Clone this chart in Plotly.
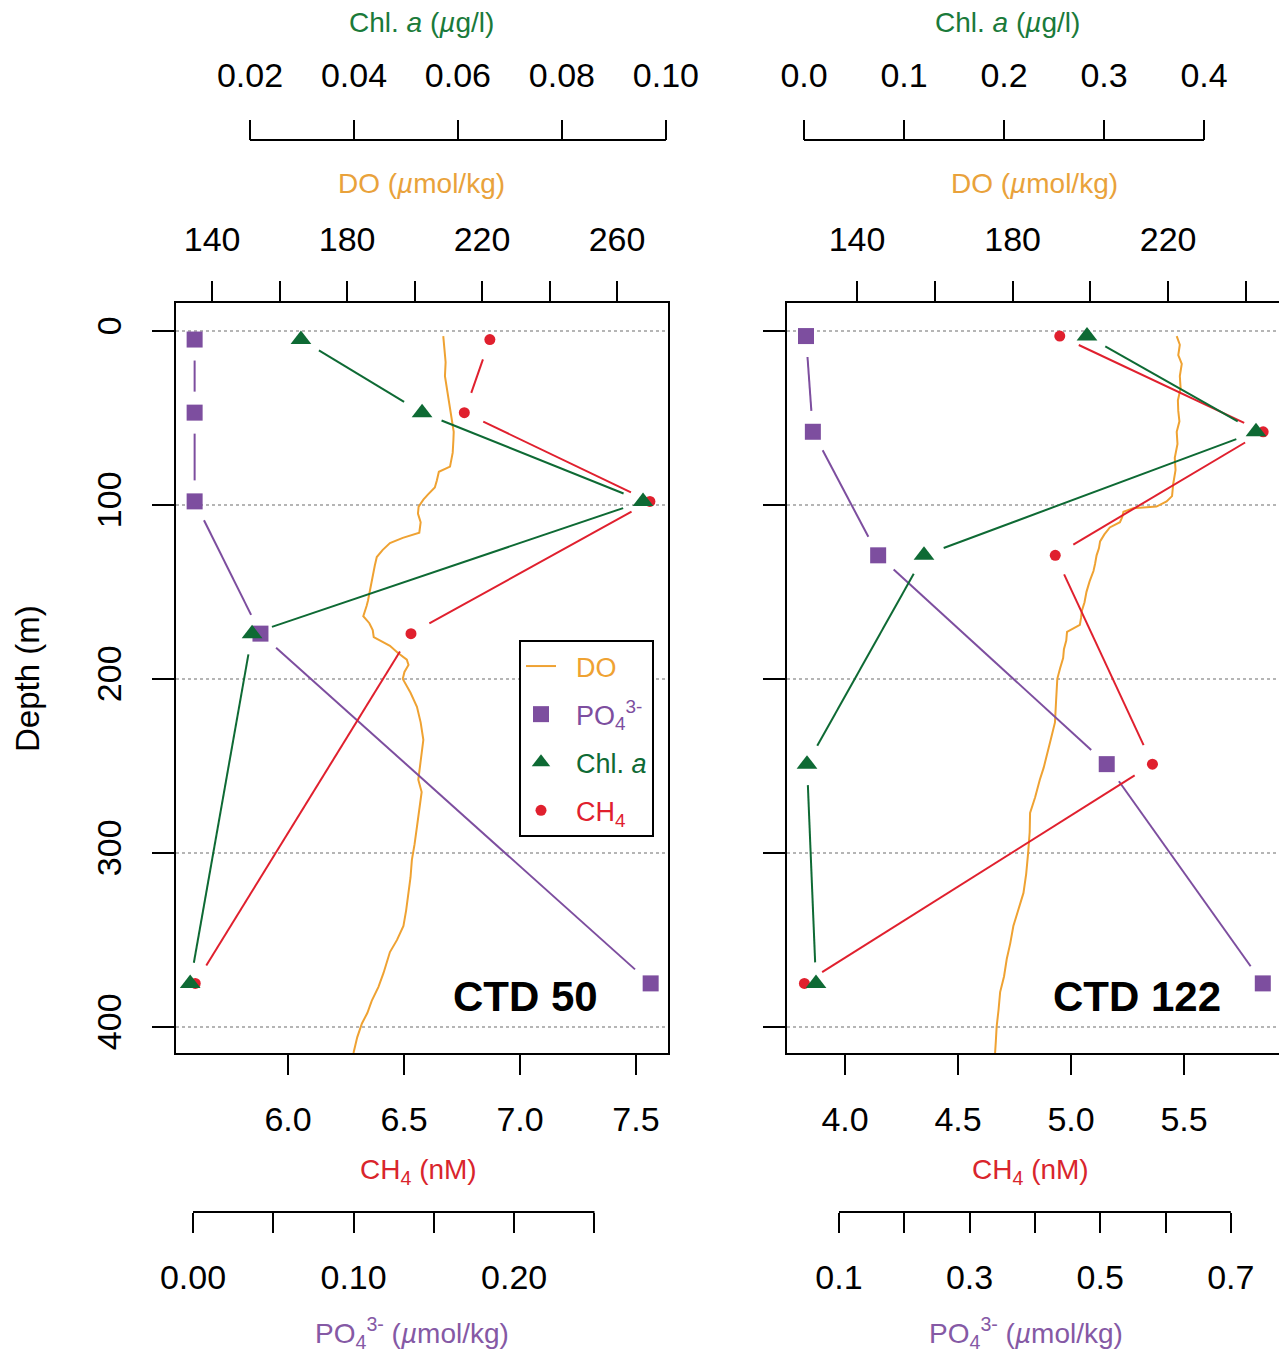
import plotly.graph_objects as go

W, H = 1279, 1357
FONT = "Liberation Sans, Arial, Helvetica, sans-serif"

# ---------------- data ----------------
# CTD 50
depth_50 = [5, 47, 98, 174, 375]
ch4_50 = [6.87, 6.76, 7.56, 6.53, 5.60]
chl_50 = [0.0298, 0.0531, 0.0956, 0.0204, 0.0085]
po4_50 = [0.001, 0.001, 0.001, 0.042, 0.285]
do_depth_50 = [3, 10, 18, 26, 34, 42, 51, 58, 63, 70, 78, 81, 86, 90, 94, 97, 101, 105, 110,
               116, 119, 122, 126, 130, 135, 139, 145, 151, 155, 158, 164, 168, 172, 176, 181,
               185, 189, 192, 196, 200, 208, 216, 225, 235, 245, 258, 265, 275, 285, 295, 304,
               314, 323, 333, 342, 350, 357, 363, 369, 377, 385, 392, 398, 406, 415]
do_50 = [208.5, 208.8, 209.2, 209.0, 209.6, 210.4, 211.0, 211.6, 211.5, 211.3, 210.5, 207.2,
         206.6, 206.0, 204.0, 202.6, 201.2, 201.0, 201.8, 201.4, 196.5, 192.7, 190.5, 188.8,
         188.2, 187.8, 187.4, 186.8, 186.2, 185.8, 184.8, 186.6, 187.6, 187.9, 192.7, 195.0,
         197.7, 198.2, 197.0, 196.5, 198.8, 200.7, 201.8, 202.6, 202.0, 201.1, 202.1, 201.3,
         200.7, 200.0, 199.2, 198.8, 198.2, 197.5, 196.7, 194.8, 192.7, 191.8, 190.8, 189.3,
         187.3, 186.0, 184.4, 183.0, 181.9]

# CTD 122
depth_122 = [3, 58, 129, 249, 375]
ch4_122 = [4.95, 5.85, 4.93, 5.36, 3.82]
chl_122 = [0.283, 0.452, 0.120, 0.003, 0.012]
po4_122 = [0.0495, 0.060, 0.160, 0.510, 0.749]
do_depth_122 = [3, 8, 14, 19, 26, 33, 40, 46, 52, 58, 65, 73, 80, 88, 95, 98, 101, 102, 104,
                107, 110, 113, 117, 121, 125, 129, 134, 138, 144, 150, 156, 161, 165, 169, 173,
                178, 183, 188, 194, 200, 212, 225, 235, 244, 251, 258, 268, 277, 288, 300, 312,
                323, 333, 342, 352, 361, 371, 380, 390, 400, 408, 415]
do_122 = [222.2, 223.0, 222.6, 223.5, 223.0, 223.2, 222.5, 222.6, 222.9, 222.2, 222.4, 221.7,
          221.9, 221.3, 221.0, 219.6, 217.0, 211.0, 208.5, 208.2, 207.6, 205.0, 203.6, 202.5,
          202.2, 201.6, 201.2, 200.8, 199.8, 199.0, 198.5, 197.8, 197.6, 197.3, 194.0, 193.8,
          193.2, 193.0, 192.2, 191.5, 191.2, 190.9, 189.8, 188.8, 188.0, 187.0, 185.8, 184.5,
          184.4, 184.0, 183.5, 182.8, 181.5, 180.2, 179.4, 178.5, 177.8, 176.8, 176.4, 175.9,
          175.7, 175.5]

# ticks (labelled major ticks + unlabelled minor ticks)
depth_ticks = [0, 100, 200, 300, 400]
ch4_ticks_50 = [6.0, 6.5, 7.0, 7.5]
ch4_ticks_122 = [4.0, 4.5, 5.0, 5.5]
do_ticks_50 = [140, 180, 220, 260]
do_minor_50 = [160, 200, 240]
do_ticks_122 = [140, 180, 220]
do_minor_122 = [160, 200, 240]
chl_ticks_50 = [0.02, 0.04, 0.06, 0.08, 0.10]
chl_text_50 = ["0.02", "0.04", "0.06", "0.08", "0.10"]
chl_ticks_122 = [0.0, 0.1, 0.2, 0.3, 0.4]
chl_text_122 = ["0.0", "0.1", "0.2", "0.3", "0.4"]
po4_ticks_50 = [0.0, 0.10, 0.20]
po4_text_50 = ["0.00", "0.10", "0.20"]
po4_minor_50 = [0.05, 0.15, 0.25]
po4_ticks_122 = [0.1, 0.3, 0.5, 0.7]
po4_text_122 = ["0.1", "0.3", "0.5", "0.7"]
po4_minor_122 = [0.2, 0.4, 0.6]
po4_span_50 = [0.0, 0.25]
po4_span_122 = [0.1, 0.7]

# ---------------- style ----------------
C_DO = "#EFA232"
C_PO4 = "#7D4E9F"
C_CHL = "#0E6A34"
C_CH4 = "#E0202E"
T_DO = "#E9A23B"
T_PO4 = "#8559A5"
T_CHL = "#1A7A3A"
T_CH4 = "#D9252C"

# layout geometry (pixels -> paper)
dom_y = [1 - 1053 / H, 1 - 303 / H]
dom_l = [176 / W, 668 / W]
dom_r = [787 / W, 1.0]
y_rng = [415, -16]
PLOT_W = 492
PLOT_H = 750

rng = {
    50: dict(do=[129.3, 275.1], po4=[-0.0106, 0.2958], ch4=[5.517, 7.638], chl=[0.00577, 0.1004]),
    122: dict(do=[122.0, 248.5], po4=[0.0204, 0.7738], ch4=[3.743, 5.920], chl=[-0.017, 0.475]),
}
chl_pos = 1 - 140 / H
po4_pos = 1 - 1212 / H


def gapped(xv, yv, xr, yr, gap=21):
    """Segments between consecutive points, shortened at both ends (R type='b')."""
    gx, gy = [], []
    for i in range(len(xv) - 1):
        x0, y0, x1, y1 = xv[i], yv[i], xv[i + 1], yv[i + 1]
        dxp = (x1 - x0) / (xr[1] - xr[0]) * PLOT_W
        dyp = (y1 - y0) / (yr[1] - yr[0]) * PLOT_H
        L = (dxp ** 2 + dyp ** 2) ** 0.5
        if L <= 2 * gap:
            continue
        t = gap / L
        gx += [x0 + (x1 - x0) * t, x0 + (x1 - x0) * (1 - t), None]
        gy += [y0 + (y1 - y0) * t, y0 + (y1 - y0) * (1 - t), None]
    return gx, gy


fig = go.Figure()

panels = [
    (50, dict(do="x", po4="x2", ch4="x3", chl="x4", y="y"),
     depth_50, ch4_50, chl_50, po4_50, do_depth_50, do_50, True),
    (122, dict(do="x5", po4="x6", ch4="x7", chl="x8", y="y2"),
     depth_122, ch4_122, chl_122, po4_122, do_depth_122, do_122, False),
]

SP = "&nbsp;&nbsp;"
for key, ax, dep, ch4, chl, po4, ddep, dov, leg in panels:
    r = rng[key]
    # DO profile
    fig.add_trace(go.Scatter(x=dov, y=ddep, mode="lines", xaxis=ax["do"], yaxis=ax["y"],
                             line=dict(color=C_DO, width=2),
                             name='%s<span style="color:%s">DO</span>' % (SP, C_DO),
                             showlegend=leg, legendrank=1, legendgroup="do"))
    # PO4
    gx, gy = gapped(po4, dep, r["po4"], y_rng)
    fig.add_trace(go.Scatter(x=gx, y=gy, mode="lines", xaxis=ax["po4"], yaxis=ax["y"],
                             line=dict(color=C_PO4, width=2), showlegend=False, hoverinfo="skip"))
    fig.add_trace(go.Scatter(x=po4, y=dep, mode="markers", xaxis=ax["po4"], yaxis=ax["y"],
                             marker=dict(symbol="square", size=16, color=C_PO4),
                             name='%s<span style="color:%s">PO<sub>4</sub><sup>3-</sup></span>' % (SP, C_PO4),
                             showlegend=leg, legendrank=2, legendgroup="po4"))
    # CH4
    gx, gy = gapped(ch4, dep, r["ch4"], y_rng)
    fig.add_trace(go.Scatter(x=gx, y=gy, mode="lines", xaxis=ax["ch4"], yaxis=ax["y"],
                             line=dict(color=C_CH4, width=2), showlegend=False, hoverinfo="skip"))
    fig.add_trace(go.Scatter(x=ch4, y=dep, mode="markers", xaxis=ax["ch4"], yaxis=ax["y"],
                             marker=dict(symbol="circle", size=11, color=C_CH4),
                             name='%s<span style="color:%s">CH<sub>4</sub></span>' % (SP, C_CH4),
                             showlegend=leg, legendrank=4, legendgroup="ch4"))
    # Chl a
    gx, gy = gapped(chl, dep, r["chl"], y_rng)
    fig.add_trace(go.Scatter(x=gx, y=gy, mode="lines", xaxis=ax["chl"], yaxis=ax["y"],
                             line=dict(color=C_CHL, width=2), showlegend=False, hoverinfo="skip"))
    fig.add_trace(go.Scatter(x=chl, y=dep, mode="markers", xaxis=ax["chl"], yaxis=ax["y"],
                             marker=dict(symbol="triangle-up", size=18, color=C_CHL),
                             name='%s<span style="color:%s">Chl. <i>a</i></span>' % (SP, C_CHL),
                             showlegend=leg, legendrank=3, legendgroup="chl"))

base = dict(linecolor="black", linewidth=2, ticks="outside", ticklen=20, tickwidth=2,
            tickcolor="black", tickfont=dict(size=34, color="black", family=FONT),
            showgrid=False, zeroline=False, tickmode="array", automargin=False)


def minor(vals):
    return dict(tickmode="array", tickvals=vals, ticks="outside", ticklen=20, tickwidth=2,
                tickcolor="black", showgrid=False)


def xax(**kw):
    d = dict(base)
    d.update(kw)
    return d


layout_axes = {}
for key, names, dom, yname, ch4t, dot, dom_minor, chlt, chltx, po4t, po4tx, po4m in [
    (50, ("xaxis", "xaxis2", "xaxis3", "xaxis4"), dom_l, "y",
     ch4_ticks_50, do_ticks_50, do_minor_50, chl_ticks_50, chl_text_50,
     po4_ticks_50, po4_text_50, po4_minor_50),
    (122, ("xaxis5", "xaxis6", "xaxis7", "xaxis8"), dom_r, "y2",
     ch4_ticks_122, do_ticks_122, do_minor_122, chl_ticks_122, chl_text_122,
     po4_ticks_122, po4_text_122, po4_minor_122),
]:
    r = rng[key]
    main = names[0].replace("axis", "")
    layout_axes[names[0]] = xax(domain=dom, range=r["do"], side="top", anchor=yname,
                                showline=True, tickvals=dot, ticktext=[str(v) for v in dot],
                                minor=minor(dom_minor), ticklabelstandoff=16)
    layout_axes[names[1]] = xax(range=r["po4"], side="bottom", anchor="free", position=po4_pos,
                                overlaying=main, showline=False, tickvals=po4t, ticktext=po4tx,
                                minor=minor(po4m), ticklabelstandoff=15)
    layout_axes[names[2]] = xax(range=r["ch4"], side="bottom", anchor=yname, overlaying=main,
                                showline=True, tickvals=ch4t,
                                ticktext=["%.1f" % v for v in ch4t], ticklabelstandoff=15)
    layout_axes[names[3]] = xax(range=r["chl"], side="top", anchor="free", position=chl_pos,
                                overlaying=main, showline=False, tickvals=chlt, ticktext=chltx,
                                ticklabelstandoff=19)

yax_common = dict(base)
yax_common.update(range=y_rng, domain=dom_y, tickvals=depth_ticks, ticklen=22,
                  showgrid=True, gridcolor="#b5b5b5", griddash="dot", gridwidth=2,
                  showline=True)
layout_axes["yaxis"] = dict(yax_common, anchor="x", mirror=True, tickangle=-90,
                            ticktext=[str(v) for v in depth_ticks], ticklabelstandoff=17)
layout_axes["yaxis2"] = dict(yax_common, anchor="x5", mirror=False, showticklabels=False)

fig.update_layout(**layout_axes)

# axis lines for offset axes (span first to last tick)
shapes = [
    dict(type="line", xref="x4", yref="paper", x0=chl_ticks_50[0], x1=chl_ticks_50[-1],
         y0=chl_pos, y1=chl_pos, line=dict(color="black", width=2)),
    dict(type="line", xref="x2", yref="paper", x0=po4_span_50[0], x1=po4_span_50[1],
         y0=po4_pos, y1=po4_pos, line=dict(color="black", width=2)),
    dict(type="line", xref="x8", yref="paper", x0=chl_ticks_122[0], x1=chl_ticks_122[-1],
         y0=chl_pos, y1=chl_pos, line=dict(color="black", width=2)),
    dict(type="line", xref="x6", yref="paper", x0=po4_span_122[0], x1=po4_span_122[1],
         y0=po4_pos, y1=po4_pos, line=dict(color="black", width=2)),
]


def ann(text, x, y, color, size=28, **kw):
    d = dict(text=text, x=x / W, y=1 - y / H, xref="paper", yref="paper", showarrow=False,
             xanchor="center", yanchor="middle", font=dict(size=size, color=color, family=FONT))
    d.update(kw)
    return d


annotations = []
for cx_chl, cx_do, cx_ch4, cx_po4 in [(421, 421, 418, 412), (1007, 1034, 1030, 1026)]:
    annotations += [
        ann("Chl. <i>a</i> (<i>µ</i>g/l)", cx_chl, 22, T_CHL),
        ann("DO (<i>µ</i>mol/kg)", cx_do, 183, T_DO),
        ann("CH<sub>4</sub> (nM)", cx_ch4, 1171, T_CH4),
        ann("PO<sub>4</sub><sup>3-</sup> (<i>µ</i>mol/kg)", cx_po4, 1333, T_PO4),
    ]
annotations += [
    ann("Depth (m)", 27, 679, "black", size=33, textangle=-90),
    ann("<b>CTD 50</b>", 525, 996, "black", size=42),
    ann("<b>CTD 122</b>", 1137, 996, "black", size=42),
]

fig.update_layout(
    width=W, height=H, autosize=False,
    margin=dict(l=0, r=0, t=0, b=0, pad=0),
    paper_bgcolor="white", plot_bgcolor="white",
    font=dict(family=FONT, size=27, color="black"),
    shapes=shapes, annotations=annotations,
    legend=dict(x=519 / W, y=1 - 640 / H, xanchor="left", yanchor="top",
                bordercolor="black", borderwidth=2, bgcolor="white",
                font=dict(size=27, family=FONT), tracegroupgap=10, itemwidth=30),
    showlegend=True,
)

fig.write_html("out.html", config={"displayModeBar": False},
               post_script="document.body.style.margin='0px';document.body.style.overflow='hidden';")
